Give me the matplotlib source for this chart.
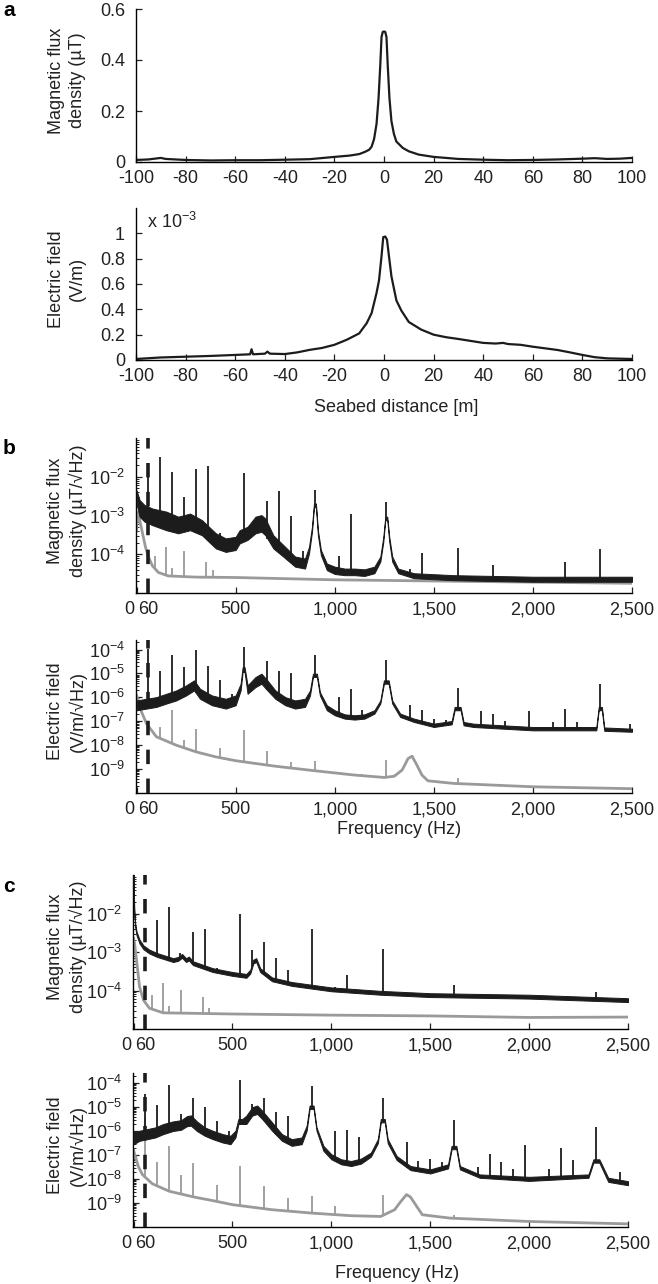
import numpy as np
import matplotlib
matplotlib.use("Agg")
import matplotlib.pyplot as plt
from matplotlib.ticker import FixedLocator, FixedFormatter, LogLocator, NullFormatter
from matplotlib.transforms import ScaledTranslation

plt.rcParams["font.family"] = ["Liberation Sans", "DejaVu Sans"]
plt.rcParams["mathtext.fontset"] = "custom"
plt.rcParams["mathtext.rm"] = "Liberation Sans"
plt.rcParams["mathtext.default"] = "regular"
plt.rcParams["axes.unicode_minus"] = False

# ---- panel a : seabed transect ----
A_DIST_B = [-100, -95, -90, -88, -80, -70, -60, -50, -40, -30, -20, -14, -10, -7.6, -6,
            -5, -4, -3, -2.2, -1.5, -1, -0.5, 0, 0.5, 1, 1.5, 2.2, 3, 4, 5,
            7.6, 10, 14, 20, 30, 40, 50, 60, 70, 80, 85, 90, 95, 100]
A_FLUX = [0.008, 0.010, 0.016, 0.012, 0.008, 0.006, 0.007, 0.007, 0.009, 0.011, 0.02, 0.025, 0.031, 0.04, 0.048,
          0.06, 0.09, 0.15, 0.25, 0.38, 0.49, 0.51, 0.512, 0.51, 0.49, 0.38, 0.25, 0.16, 0.11, 0.08,
          0.055, 0.042, 0.029, 0.02, 0.012, 0.009, 0.007, 0.008, 0.010, 0.013, 0.015, 0.012, 0.013, 0.016]

A_DIST_E = [-100, -90, -80, -70, -60, -54, -53.4, -52.8, -48, -47, -46, -40, -35, -30, -25, -20, -15, -10,
            -7, -5, -3, -2, -1, -0.3, 0.5, 1.2, 2, 3, 5, 7, 10, 15, 20, 25, 30, 40, 45, 48, 50,
            55, 60, 70, 75, 80, 85, 90, 100]
A_EFIELD = [0.008, 0.02, 0.026, 0.032, 0.04, 0.045, 0.085, 0.045, 0.05, 0.066, 0.05, 0.047, 0.06, 0.08, 0.095, 0.12, 0.16, 0.21,
            0.29, 0.37, 0.53, 0.63, 0.82, 0.97, 0.975, 0.95, 0.82, 0.66, 0.47, 0.39, 0.30, 0.24, 0.20, 0.18, 0.166, 0.135, 0.13, 0.135, 0.126,
            0.12, 0.105, 0.079, 0.06, 0.04, 0.022, 0.013, 0.008]  # x 10^-3 V/m

# ---- spectra: log10 values; black = band (hi/lo) + spikes, gray = line + spikes ----
B1_ON_F = [0, 15, 40, 80, 150, 210, 270, 330, 400, 450, 500, 520, 560, 600, 630, 650, 690, 740, 800, 850,
           870, 885, 895, 905, 915, 930, 960, 1000, 1050, 1100, 1150, 1200, 1230, 1245, 1255, 1265, 1275,
           1290, 1320, 1400, 1600, 2000, 2500]
B1_ON_HI = [-2.35, -2.60, -2.73, -2.82, -2.90, -3.03, -2.95, -3.12, -3.46, -3.59, -3.55, -3.38, -3.29, -3.03, -2.99, -3.08, -3.51, -3.76, -4.06, -4.11,
            -3.81, -3.29, -2.69, -2.69, -3.38, -3.89, -4.24, -4.32, -4.37, -4.37, -4.39, -4.32, -4.06, -3.55, -3.03, -3.03, -3.55,
            -4.06, -4.37, -4.49, -4.54, -4.58, -4.58]
B1_ON_LO = [-2.70, -3.03, -3.16, -3.25, -3.38, -3.46, -3.38, -3.51, -3.85, -3.94, -3.89, -3.72, -3.63, -3.46, -3.42, -3.51, -3.85, -4.06, -4.32, -4.37,
            -3.98, -3.42, -2.79, -2.79, -3.51, -4.02, -4.41, -4.51, -4.54, -4.54, -4.56, -4.49, -4.19, -3.68, -3.12, -3.12, -3.68,
            -4.19, -4.49, -4.62, -4.67, -4.71, -4.71]
B1_ON_PK_F = [60, 120, 180, 240, 300, 360, 420, 480, 540, 660, 720, 780, 840, 900, 1020, 1080, 1260,
              1380, 1440, 1620, 1800, 2160, 2340]
B1_ON_PK_V = [-2.0, -1.50, -1.89, -2.52, -1.80, -1.72, -3.46, -3.59, -1.90, -2.63, -2.36, -3.02, -3.92, -2.34, -4.05, -2.97, -2.65,
              -4.38, -3.96, -3.83, -4.28, -4.19, -3.87]
B1_BG_F = [0, 4, 10, 20, 30, 45, 60, 80, 110, 160, 300, 500, 1000, 1500, 2000, 2500]
B1_BG_V = [-3.40, -2.92, -2.96, -3.22, -3.46, -3.82, -4.07, -4.30, -4.47, -4.56, -4.59, -4.60, -4.66, -4.69, -4.72, -4.75]
B1_BG_PK_F = [95, 150, 180, 240, 350, 385]
B1_BG_PK_V = [-4.05, -3.81, -4.35, -3.92, -4.19, -4.40]

B2_ON_F = [0, 50, 100, 150, 200, 250, 290, 320, 380, 450, 500, 525, 535, 545, 560, 600, 630, 660, 700, 750,
           800, 850, 875, 890, 910, 925, 960, 1000, 1050, 1100, 1150, 1200, 1230, 1248, 1272, 1290, 1330, 1400,
           1500, 1590, 1605, 1635, 1650, 1700, 2000, 2320, 2332, 2348, 2360, 2500]
B2_ON_HI = [-6.13, -6.06, -5.99, -5.85, -5.71, -5.50, -5.29, -5.64, -5.92, -6.06, -5.92, -5.43, -4.74, -4.74, -5.50, -5.15, -5.01, -5.29, -5.71, -5.99,
            -6.13, -6.06, -5.71, -5.01, -5.01, -5.78, -6.33, -6.54, -6.71, -6.75, -6.71, -6.54, -6.13, -5.29, -5.29, -6.13, -6.68, -6.89,
            -7.10, -6.99, -6.40, -6.40, -7.03, -7.10, -7.24, -7.24, -6.40, -6.40, -7.26, -7.31]
B2_ON_LO = [-6.54, -6.47, -6.40, -6.26, -6.13, -5.92, -5.71, -6.06, -6.33, -6.47, -6.33, -5.71, -4.94, -4.94, -5.85, -5.57, -5.43, -5.71, -6.06, -6.33,
            -6.47, -6.40, -5.92, -5.15, -5.15, -5.92, -6.54, -6.75, -6.89, -6.93, -6.89, -6.68, -6.26, -5.43, -5.43, -6.26, -6.82, -7.03,
            -7.24, -7.13, -6.54, -6.54, -7.17, -7.24, -7.38, -7.38, -6.54, -6.54, -7.40, -7.44]
B2_ON_PK_F = [60, 120, 180, 240, 300, 360, 420, 480, 540, 660, 720, 780, 840, 900, 1020, 1080, 1140, 1260,
              1380, 1440, 1500, 1560, 1620, 1740, 1800, 1860, 1980, 2100, 2160, 2220, 2340, 2490]
B2_ON_PK_V = [-3.97, -4.88, -4.25, -4.74, -4.01, -4.67, -5.26, -5.85, -3.90, -4.46, -4.88, -4.99, -6.13, -4.21, -5.99, -5.64, -6.54, -4.43,
              -6.33, -6.54, -6.90, -6.95, -5.60, -6.57, -6.71, -7.00, -6.57, -7.05, -6.47, -7.05, -5.46, -7.10]
B2_BG_F = [0, 10, 25, 50, 100, 200, 300, 400, 500, 700, 900, 1100, 1250, 1300, 1340, 1370, 1390, 1410, 1440, 1470, 1600, 2000, 2500]
B2_BG_V = [-5.92, -6.19, -6.61, -7.10, -7.65, -8.00, -8.28, -8.49, -8.65, -8.88, -9.07, -9.25, -9.35, -9.30, -9.04, -8.56, -8.46, -8.76,
           -9.25, -9.49, -9.60, -9.74, -9.82]
B2_BG_PK_F = [120, 180, 240, 300, 420, 540, 660, 780, 900, 1020, 1140, 1260, 1620]
B2_BG_PK_V = [-7.24, -6.54, -7.79, -7.31, -8.10, -7.38, -8.24, -8.69, -8.67, -9.11, -9.21, -8.63, -9.39]

C1_ON_F = [0, 3, 8, 15, 30, 50, 80, 120, 200, 225, 245, 265, 280, 300, 400, 500, 570, 590, 605, 620, 640,
           700, 800, 1000, 1250, 1500, 2000, 2500]
C1_ON_HI = [-0.90, -1.86, -2.25, -2.47, -2.68, -2.83, -2.94, -3.03, -3.16, -3.13, -3.05, -3.16, -3.12, -3.24, -3.42, -3.52, -3.57, -3.46, -3.20, -3.16, -3.42,
            -3.66, -3.78, -3.92, -4.01, -4.07, -4.11, -4.20]
C1_ON_LO = [-1.09, -1.96, -2.35, -2.57, -2.78, -2.93, -3.04, -3.13, -3.26, -3.23, -3.15, -3.26, -3.22, -3.34, -3.52, -3.62, -3.67, -3.56, -3.30, -3.26, -3.52,
            -3.76, -3.88, -4.02, -4.11, -4.17, -4.21, -4.30]
C1_ON_PK_F = [120, 180, 235, 300, 360, 420, 480, 540, 600, 660, 720, 780, 900, 1020, 1080, 1260, 1620, 2340]
C1_ON_PK_V = [-2.17, -1.82, -3.03, -2.47, -2.39, -3.42, -3.55, -2.00, -2.95, -2.73, -3.16, -3.47, -2.39, -3.90, -3.60, -2.93, -3.86, -4.05]
C1_BG_F = [0, 5, 15, 30, 50, 80, 150, 500, 1000, 1500, 2000, 2500]
C1_BG_V = [-2.65, -2.78, -3.21, -3.90, -4.25, -4.46, -4.58, -4.61, -4.64, -4.66, -4.70, -4.69]
C1_BG_PK_F = [95, 150, 180, 240, 350, 381]
C1_BG_PK_V = [-4.12, -3.81, -4.40, -3.99, -4.16, -4.45]

C2_ON_F = [0, 30, 70, 110, 150, 200, 240, 270, 290, 320, 360, 400, 450, 490, 515, 530, 550, 570, 600, 625,
           650, 700, 750, 800, 850, 875, 890, 910, 925, 960, 1000, 1050, 1100, 1150, 1200, 1235, 1250, 1270,
           1285, 1330, 1400, 1500, 1590, 1608, 1632, 1650, 1750, 2000, 2300, 2325, 2355, 2400, 2500]
C2_ON_HI = [-6.06, -5.99, -5.92, -5.85, -5.71, -5.60, -5.55, -5.38, -5.35, -5.60, -5.85, -5.99, -6.13, -6.20, -5.99, -5.50, -5.50, -5.36, -5.01, -4.94,
            -5.15, -5.64, -6.13, -6.34, -6.27, -5.78, -4.94, -4.94, -5.85, -6.62, -6.97, -7.18, -7.25, -7.15, -6.90, -6.34, -5.50, -5.50,
            -6.34, -7.04, -7.46, -7.60, -7.39, -6.62, -6.62, -7.46, -7.81, -7.91, -7.81, -7.18, -7.18, -7.95, -8.09]
C2_ON_LO = [-6.55, -6.41, -6.34, -6.27, -6.13, -6.00, -5.95, -5.80, -5.78, -6.00, -6.20, -6.34, -6.48, -6.55, -6.27, -5.71, -5.71, -5.71, -5.36, -5.29,
            -5.50, -5.99, -6.41, -6.62, -6.55, -5.99, -5.08, -5.08, -5.99, -6.83, -7.18, -7.39, -7.46, -7.36, -7.07, -6.51, -5.64, -5.64,
            -6.51, -7.21, -7.63, -7.77, -7.56, -6.76, -6.76, -7.60, -7.95, -8.08, -7.95, -7.32, -7.32, -8.12, -8.26]
C2_ON_PK_F = [60, 120, 180, 240, 300, 360, 420, 480, 540, 600, 660, 720, 780, 840, 900, 1020, 1080, 1140, 1260,
              1380, 1440, 1500, 1560, 1620, 1740, 1800, 1860, 1920, 1980, 2100, 2160, 2220, 2340, 2460]
C2_ON_PK_V = [-4.45, -4.91, -4.07, -5.29, -4.63, -5.01, -5.57, -5.99, -3.89, -4.87, -4.63, -5.22, -5.36, -6.34, -4.13, -5.99, -5.95, -6.27, -4.63,
              -6.45, -7.25, -7.15, -7.30, -5.54, -7.49, -6.94, -7.28, -7.60, -6.59, -7.57, -6.69, -7.21, -5.85, -7.70]
C2_BG_F = [0, 10, 25, 45, 95, 180, 310, 400, 500, 700, 900, 1100, 1250, 1320, 1350, 1380, 1400, 1420, 1460, 1600, 2000, 2500]
C2_BG_V = [-6.80, -7.10, -7.50, -7.82, -8.20, -8.51, -8.76, -8.90, -9.07, -9.28, -9.42, -9.53, -9.56, -9.28, -8.95, -8.65, -8.75, -9.00,
           -9.49, -9.63, -9.77, -9.87]
C2_BG_PK_F = [60, 120, 180, 240, 300, 420, 540, 660, 780, 900, 1020, 1260, 1620]
C2_BG_PK_V = [-5.45, -7.31, -6.62, -7.85, -7.35, -8.23, -7.46, -8.30, -8.79, -8.72, -9.14, -8.65, -9.49]

FREQ_TICKS = [0, 60, 500, 1000, 1500, 2000, 2500]
FREQ_LABELS = ["0", "60", "500", "1,000", "1,500", "2,000", "2,500"]

BLACK = "#1c1c1c"
GRAY = "#9a9a9a"
TXT = "#222222"
FS = 13
W, H = 658, 1284

fig = plt.figure(figsize=(W / 100, H / 100), dpi=100)


def make_axes(left, top, right, bottom):
    ax = fig.add_axes([left / W, 1 - bottom / H, (right - left) / W, (bottom - top) / H])
    ax.spines["top"].set_visible(False)
    ax.spines["right"].set_visible(False)
    ax.spines["left"].set_linewidth(1.0)
    ax.spines["bottom"].set_linewidth(1.0)
    ax.tick_params(which="major", direction="in", length=4, width=0.9, labelsize=FS, colors=TXT)
    ax.tick_params(axis="x", pad=6)
    ax.tick_params(axis="y", pad=8)
    ax.tick_params(which="minor", direction="in", length=2.2, width=0.6)
    ax.patch.set_alpha(0)
    return ax


def ylabel(text, top, bottom):
    fig.text(67 / W, 1 - ((top + bottom) / 2 - 5) / H, text, rotation=90, ha="center", va="center",
             fontsize=FS, linespacing=1.35, multialignment="center", color=TXT)


def spectrum(ax, on_f, on_hi, on_lo, on_pf, on_pv, bg_f, bg_v, bg_pf, bg_pv, ylim, yticks):
    bg_f = np.array(bg_f); bg_v = np.array(bg_v)
    ax.plot(bg_f, 10.0 ** bg_v, color=GRAY, lw=2.0, zorder=2)
    foot = np.interp(bg_pf, bg_f, bg_v)
    ax.vlines(bg_pf, 10.0 ** foot, 10.0 ** np.array(bg_pv), color=GRAY, lw=1.3, zorder=2)
    ax.axvline(60, color=BLACK, lw=2.6, ls=(0, (4, 4)), zorder=3)
    ax.fill_between(on_f, 10.0 ** np.array(on_lo), 10.0 ** np.array(on_hi), color=BLACK, lw=0.7, zorder=4)
    foot = np.interp(on_pf, on_f, on_lo)
    ax.vlines(on_pf, 10.0 ** foot, 10.0 ** np.array(on_pv), color=BLACK, lw=1.3, zorder=4)
    ax.set_yscale("log")
    ax.set_ylim(*ylim)
    ax.set_xlim(-3, 2500)
    ax.yaxis.set_major_locator(FixedLocator(yticks))
    ax.yaxis.set_minor_locator(LogLocator(base=10, subs=np.arange(2, 10), numticks=60))
    ax.yaxis.set_minor_formatter(NullFormatter())
    ax.xaxis.set_major_locator(FixedLocator(FREQ_TICKS))
    ax.xaxis.set_major_formatter(FixedFormatter(FREQ_LABELS))
    lab0 = ax.get_xticklabels()[0]
    lab0.set_transform(lab0.get_transform() + ScaledTranslation(-0.07, 0, fig.dpi_scale_trans))


# a: magnetic flux density along the seabed
ax = make_axes(136, 9, 632, 162)
ax.plot(A_DIST_B, A_FLUX, color=BLACK, lw=1.6)
ax.set_xlim(-100, 100)
ax.set_ylim(0, 0.6)
ax.set_xticks(range(-100, 101, 20))
ax.set_yticks([0, 0.2, 0.4, 0.6])
ax.set_yticklabels(["0", "0.2", "0.4", "0.6"])
ylabel("Magnetic flux\ndensity (\u00b5T)", 9, 162)

# a: electric field along the seabed
ax = make_axes(136, 208, 632, 360)
ax.plot(A_DIST_E, A_EFIELD, color=BLACK, lw=1.6)
ax.set_xlim(-100, 100)
ax.set_ylim(0, 1.2)
ax.set_xticks(range(-100, 101, 20))
ax.set_yticks([0, 0.2, 0.4, 0.6, 0.8, 1.0])
ax.set_yticklabels(["0", "0.2", "0.4", "0.6", "0.8", "1"])
ylabel("Electric field\n(V/m)", 208, 360)
fig.text(147 / W, 1 - 222 / H, "x 10$^{-3}$", fontsize=FS, va="center", ha="left", color=TXT)
fig.text(396 / W, 1 - 407 / H, "Seabed distance [m]", fontsize=FS, ha="center", va="center", color=TXT)

# b: spectra
ax = make_axes(136, 438, 632, 593)
spectrum(ax, B1_ON_F, B1_ON_HI, B1_ON_LO, B1_ON_PK_F, B1_ON_PK_V,
         B1_BG_F, B1_BG_V, B1_BG_PK_F, B1_BG_PK_V, (1e-5, 1e-1), [1e-4, 1e-3, 1e-2])
ylabel("Magnetic flux\ndensity (\u00b5T/\u221aHz)", 438, 593)

ax = make_axes(136, 640, 632, 793)
spectrum(ax, B2_ON_F, B2_ON_HI, B2_ON_LO, B2_ON_PK_F, B2_ON_PK_V,
         B2_BG_F, B2_BG_V, B2_BG_PK_F, B2_BG_PK_V, (1e-10, 2.5e-4), [1e-9, 1e-8, 1e-7, 1e-6, 1e-5, 1e-4])
ylabel("Electric field\n(V/m/\u221aHz)", 640, 793)
fig.text(399 / W, 1 - 830 / H, "Frequency (Hz)", fontsize=FS, ha="center", va="center", color=TXT)

# c: spectra
ax = make_axes(133, 875, 628, 1029)
spectrum(ax, C1_ON_F, C1_ON_HI, C1_ON_LO, C1_ON_PK_F, C1_ON_PK_V,
         C1_BG_F, C1_BG_V, C1_BG_PK_F, C1_BG_PK_V, (1e-5, 1e-1), [1e-4, 1e-3, 1e-2])
ylabel("Magnetic flux\ndensity (\u00b5T/\u221aHz)", 875, 1029)

ax = make_axes(133, 1073, 628, 1227)
spectrum(ax, C2_ON_F, C2_ON_HI, C2_ON_LO, C2_ON_PK_F, C2_ON_PK_V,
         C2_BG_F, C2_BG_V, C2_BG_PK_F, C2_BG_PK_V, (1e-10, 2.6e-4), [1e-9, 1e-8, 1e-7, 1e-6, 1e-5, 1e-4])
ylabel("Electric field\n(V/m/\u221aHz)", 1073, 1227)
fig.text(397 / W, 1 - 1273 / H, "Frequency (Hz)", fontsize=FS, ha="center", va="center", color=TXT)

for letter, y in (("a", 10), ("b", 448), ("c", 887)):
    fig.text(9 / W, 1 - y / H, letter, fontsize=15, fontweight="bold", ha="center", va="center")

fig.savefig("out.png", dpi=100, facecolor="white")
